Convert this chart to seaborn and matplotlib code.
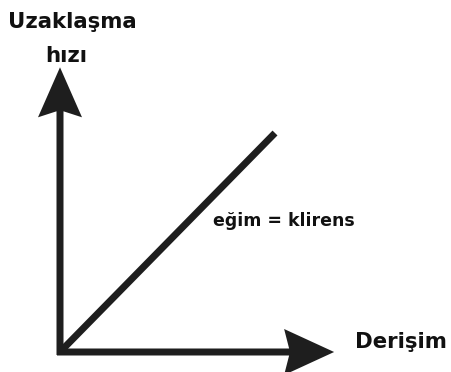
import matplotlib
matplotlib.use("Agg")
import matplotlib.pyplot as plt
import seaborn as sns
import pandas as pd

# data (arbitrary schematic units)
concentration = [0, 10]
elimination_rate = [0, 10]
x_axis_end = 12.75
y_axis_end = 13.0
y_label_lines = ["Uzaklaşma", "hızı"]
x_label = "Derişim"
slope_label = "eğim = klirens"

sns.set_style("white")
plt.rcParams['font.family'] = ['DejaVu Sans']

W, H = 451, 372
fig = plt.figure(figsize=(W / 100, H / 100), dpi=100)
ax = fig.add_axes([0, 0, 1, 1])
sx, sy = 21.5, 21.9
ax.set_xlim(-60 / sx, (W - 60) / sx)
ax.set_ylim(-(H - 352) / sy, 352 / sy)
ax.axis("off")

ink = "#1e1e1e"
df = pd.DataFrame({"x": concentration, "y": elimination_rate})
sns.lineplot(data=df, x="x", y="y", ax=ax, color=ink, lw=5,
             solid_capstyle="butt")

# axes arrows
ax.arrow(0, -3 / sy, 0, y_axis_end + 3 / sy, width=7 / sx,
         head_width=44 / sx, head_length=50 / sy, overhang=0.12,
         length_includes_head=True, color=ink, lw=0)
ax.arrow(-3 / sx, 0, x_axis_end + 3 / sx, 0, width=7 / sy,
         head_width=46 / sy, head_length=50 / sx, overhang=0.1,
         length_includes_head=True, color=ink, lw=0)

fs = 15.3
fig.text(72.5 / W, 1 - 28 / H, y_label_lines[0], ha="center", va="baseline",
         fontsize=fs, fontweight="bold", color="#111111")
fig.text(66 / W, 1 - 62 / H, y_label_lines[1], ha="center", va="baseline",
         fontsize=fs, fontweight="bold", color="#111111")
fig.text(355 / W, 1 - 348 / H, x_label, ha="left", va="baseline",
         fontsize=fs, fontweight="bold", color="#111111")
fig.text(213 / W, 1 - 226 / H, slope_label, ha="left", va="baseline",
         fontsize=12.5, fontweight="bold", color="#111111")

fig.savefig("out.png", dpi=100)
